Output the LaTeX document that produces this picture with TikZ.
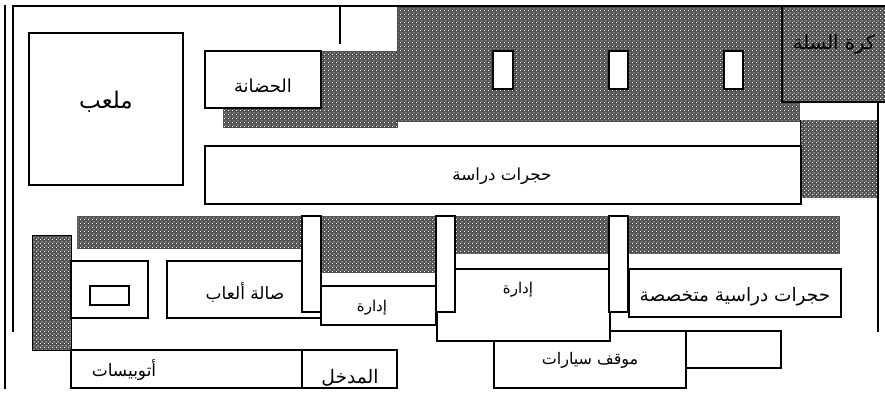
\documentclass[tikz,border=0pt]{standalone}
\usepackage{fontspec}
\usetikzlibrary{patterns}
\TeXXeTstate=1
\newfontfamily\arabicfont[Script=Arabic]{DejaVu Sans}
\pgfdeclarepatternformonly{schooldots}{\pgfqpoint{0pt}{0pt}}{\pgfqpoint{4pt}{4pt}}{\pgfqpoint{4pt}{4pt}}{
  \pgfpathrectangle{\pgfqpoint{0pt}{0pt}}{\pgfqpoint{1.1pt}{1.1pt}}
  \pgfpathrectangle{\pgfqpoint{2pt}{2pt}}{\pgfqpoint{1.1pt}{1.1pt}}
  \pgfusepath{fill}}
\tikzset{
  wall/.style={draw=black,line width=1.4pt},
  room/.style={draw=black,line width=1.4pt,fill=white},
  shade/.style={preaction={fill=black!68},pattern=schooldots,pattern color=white},
  shadebox/.style={preaction={fill=black!68},pattern=schooldots,pattern color=white},
  label/.style={font=\arabicfont\fontsize{#1}{#1}\selectfont,inner sep=0pt},
  label/.default=12
}
\newcommand{\ar}[1]{\beginR #1\endR}
\begin{document}
\begin{tikzpicture}[x=1pt,y=-1pt]
\useasboundingbox (0,0) rectangle (885,399);
\fill[white] (0,0) rectangle (885,399);
% shaded masses
\fill[shade] (397,6) rectangle (800,121);
\fill[shade] (223,51) rectangle (397,127);
\draw[draw=black!70,line width=0.6pt] (223,127) -- (397,127) -- (397,6);
\draw[draw=black!70,line width=0.6pt] (397,121) -- (800,121);
\fill[shade] (800,120) rectangle (877,198);
\draw[draw=black,line width=0.6pt] (800,120) -- (800,198);
\fill[shade] (77,216) rectangle (302,249);
\fill[shade] (321,216) rectangle (436,273);
\fill[shade] (455,216) rectangle (609,254);
\fill[shade] (628,216) rectangle (840,254);
\path[shadebox] (32,235) rectangle (71,350);
\draw[draw=black,line width=0.8pt] (32,235) rectangle (71,350);
% basketball court
\fill[shade] (782,6) rectangle (885,102);
\draw[wall] (885,102) -- (782,102) -- (782,6);
% outer lines
\draw[wall] (5,5) -- (5,389);
\draw[wall] (13,332) -- (13,6) -- (885,6);
\draw[wall] (878,102) -- (878,332);
\draw[wall] (340,6) -- (340,44);
% windows
\draw[room] (493,51) rectangle (513,89);
\draw[room] (609,51) rectangle (628,89);
\draw[room] (724,51) rectangle (743,89);
% upper rooms
\draw[room] (29,33) rectangle (183,185);
\draw[room] (205,51) rectangle (321,108);
\draw[room] (205,146) rectangle (801,204);
% lower rooms
\draw[room] (71,261) rectangle (148,318);
\draw[room] (90,286) rectangle (129,305);
\draw[room] (167,261) rectangle (321,318);
\draw[room] (686,331) rectangle (781,368);
\draw[room] (494,331) rectangle (686,388);
\draw[room] (437,269) rectangle (610,341);
\draw[room] (629,269) rectangle (841,317);
\draw[room] (321,286) rectangle (436,325);
\draw[room] (302,216) rectangle (321,312);
\draw[room] (436,216) rectangle (455,312);
\draw[room] (609,216) rectangle (628,312);
\draw[room] (71,350) rectangle (302,388);
\draw[room] (302,350) rectangle (397,388);
% labels
\node[label=23] (field) at (106,102) {\ar{ملعب}};
\node[label=18] (nursery) at (263,86) {\ar{الحضانة}};
\node[label=16.7] (classes) at (502,176) {\ar{حجرات دراسة}};
\node[label=19.5] (basket) at (834,44) {\ar{كرة السلة}};
\node[label=17] (games) at (245,292) {\ar{صالة ألعاب}};
\node[label=15] (admina) at (372,308) {\ar{إدارة}};
\node[label=15] (adminb) at (518,290) {\ar{إدارة}};
\node[label=18.5] (special) at (735,297) {\ar{حجرات دراسية متخصصة}};
\node[label=16] (cars) at (590,360) {\ar{موقف سيارات}};
\node[label=17] (buses) at (124,370) {\ar{أتوبيسات}};
\node[label=18.7] (entry) at (350,378) {\ar{المدخل}};
\end{tikzpicture}
\end{document}
